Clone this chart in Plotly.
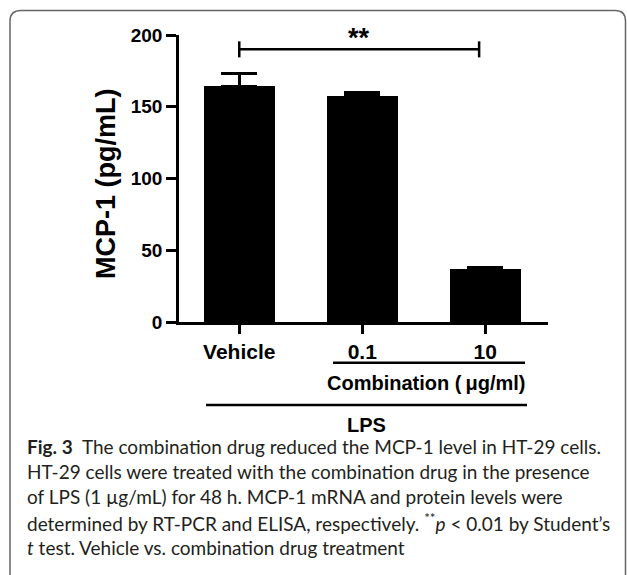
import plotly.graph_objects as go

# ---- data ----
categories = ["Vehicle", "0.1", "10"]
mcp1_mean = [164.6, 157.7, 37.2]
mcp1_sem = [8.7, 2.1, 1.2]
y_ticks = [0, 50, 100, 150, 200]
y_title = "MCP-1 (pg/mL)"
sig_pair = (0, 2)
sig_label = "**"
sig_y = 190
caption_lines = [
    "<b>Fig. 3</b>  The combination drug reduced the MCP-1 level in HT-29 cells.",
    "HT-29 cells were treated with the combination drug in the presence",
    "of LPS (1 µg/mL) for 48 h. MCP-1 mRNA and protein levels were",
    "determined by RT-PCR and ELISA, respectively. <sup>**</sup><i>p</i> &lt; 0.01 by Student’s",
    "<i>t</i> test. Vehicle vs. combination drug treatment",
]

W, H = 627, 575
L, R, T, B = 179, 79, 35, 253
PW, PH = W - L - R, H - T - B


def px(x):
    return (x - L) / PW


def py(y):
    return (H - B - y) / PH


FONT = "Liberation Sans, Arial, sans-serif"

fig = go.Figure()
fig.add_trace(go.Bar(
    x=list(range(len(categories))), y=mcp1_mean,
    width=0.58,
    marker=dict(color="black", line=dict(width=0)),
    error_y=dict(type="data", array=mcp1_sem, arrayminus=[0] * len(mcp1_sem),
                 symmetric=False, color="black", thickness=2.5, width=18),
    showlegend=False,
))

# significance bracket
x0, x1 = sig_pair[0], sig_pair[1] - 0.05
tick_h = 5.6
fig.add_shape(type="line", x0=x0, x1=x1, y0=sig_y, y1=sig_y, xref="x", yref="y",
              line=dict(color="black", width=2.5))
for xx in (x0, x1):
    fig.add_shape(type="line", x0=xx, x1=xx, y0=sig_y - tick_h, y1=sig_y + tick_h,
                  xref="x", yref="y", line=dict(color="black", width=2.5))
fig.add_annotation(x=(x0 + x1) / 2, y=py(38), xref="x", yref="paper",
                   text="<b>" + sig_label + "</b>", showarrow=False, yanchor="middle",
                   font=dict(family=FONT, size=27, color="black"))

# y-axis title
fig.add_annotation(xref="paper", yref="paper", x=px(106), y=py(184), text="<b>" + y_title + "</b>",
                   textangle=-90, showarrow=False, xanchor="center", yanchor="middle",
                   font=dict(family=FONT, size=27, color="black"))

# group lines and labels
fig.add_shape(type="line", xref="paper", yref="paper", x0=px(333), x1=px(525),
              y0=py(362.7), y1=py(362.7), line=dict(color="black", width=2.5))
fig.add_annotation(xref="paper", yref="paper", x=px(426), y=py(383),
                   text="<b>Combination (\u2009μg/ml)</b>", showarrow=False,
                   xanchor="center", yanchor="middle",
                   font=dict(family=FONT, size=20, color="black"))
fig.add_shape(type="line", xref="paper", yref="paper", x0=px(206), x1=px(527),
              y0=py(405), y1=py(405), line=dict(color="black", width=2.5))
fig.add_annotation(xref="paper", yref="paper", x=px(366.5), y=py(425),
                   text="<b>LPS</b>", showarrow=False,
                   xanchor="center", yanchor="middle",
                   font=dict(family=FONT, size=20, color="black"))

# caption
for i, line in enumerate(caption_lines):
    fig.add_annotation(xref="paper", yref="paper", x=px(25), y=py(446 + i * 25.4),
                       text=line, showarrow=False, xanchor="left", yanchor="middle",
                       align="left", font=dict(family="Lato, sans-serif", size=19, color="#231f20"))

# border box
path = (f"M {px(10)},{py(580)} L {px(10)},{py(21)} Q {px(10)},{py(10.5)} {px(21)},{py(10.5)} "
        f"L {px(615)},{py(10.5)} Q {px(625.5)},{py(10.5)} {px(625.5)},{py(21)} L {px(625.5)},{py(580)}")
fig.add_shape(type="path", path=path, xref="paper", yref="paper",
              line=dict(color="#666666", width=1.5))

fig.update_layout(
    width=W, height=H,
    margin=dict(l=L, r=R, t=T, b=B, autoexpand=False),
    paper_bgcolor="white", plot_bgcolor="white",
    font=dict(family=FONT, color="black"),
    bargap=0,
)
fig.update_xaxes(
    range=[-0.49, 2.51], tickmode="array", tickvals=list(range(len(categories))),
    ticktext=["<b>" + c + "</b>" for c in categories],
    showline=True, linecolor="black", linewidth=2.5, ticks="outside", ticklen=9,
    tickwidth=2.5, tickcolor="black", showgrid=False, zeroline=False,
    tickfont=dict(family=FONT, size=21, color="black"),
)
fig.update_yaxes(
    range=[0, 200], tickmode="array", tickvals=y_ticks,
    ticktext=["<b>%d</b>" % v for v in y_ticks],
    showline=True, linecolor="black", linewidth=2.5, ticks="outside", ticklen=10,
    tickwidth=2.5, tickcolor="black", showgrid=False, zeroline=False,
    tickfont=dict(family=FONT, size=19, color="black"),
)

fig.write_html("out.html", config={"displayModeBar": False},
               post_script="document.body.style.margin='0';document.body.style.overflow='hidden';")
